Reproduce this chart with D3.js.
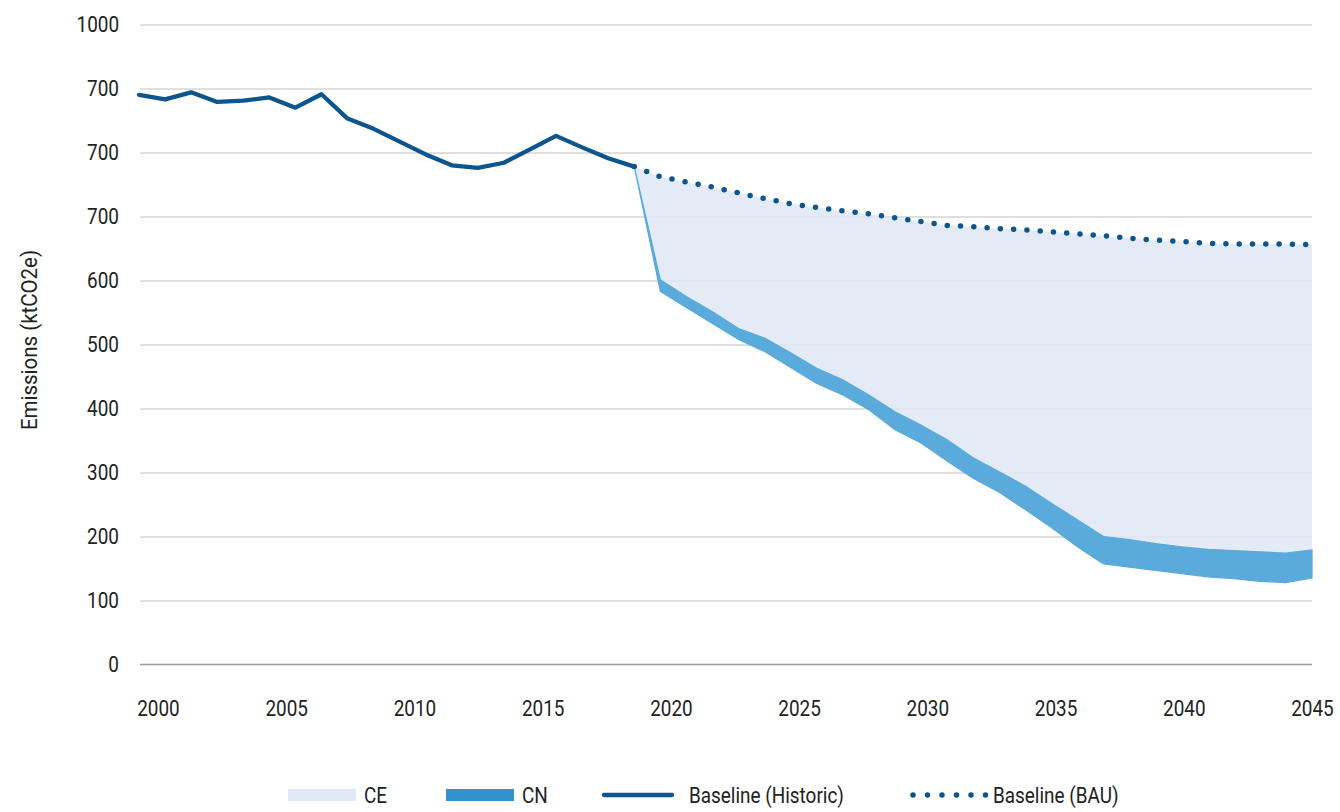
<!DOCTYPE html>
<html>
<head>
<meta charset="utf-8">
<script src="https://cdn.jsdelivr.net/npm/d3@7"></script>
<style>
  html, body { margin: 0; padding: 0; background: #fff; }
  svg { display: block; }
  text { font-family: Roboto, "Liberation Sans", sans-serif; fill: #222; }
</style>
</head>
<body>
<svg id="chart" width="1340" height="812"></svg>
<script>
// ---- Data ----
const historicYears = d3.range(2000, 2020);
const historicValues = [890, 883, 894, 879, 881, 886, 870, 891, 853, 837,
                        817, 797, 780, 776, 784, 805, 826, 808, 791, 778];

const projYears = d3.range(2019, 2046);
const bauValues = [778, 762, 754, 746, 737, 728, 720, 714, 709, 704, 698,
                   692, 686, 684, 681, 679, 676, 673, 670, 666, 663, 661,
                   658, 657, 657, 657, 656];
const cnUpper = [778, 601, 575, 551, 525, 510, 487, 463, 445, 421, 395,
                 374, 351, 323, 301, 279, 252, 226, 200, 195, 189, 184,
                 180, 178, 176, 174, 179];
const cnLower = [778, 583, 558, 533, 508, 489, 464, 439, 421, 398, 367,
                 346, 318, 291, 269, 242, 214, 184, 157, 152, 147, 142,
                 137, 134, 130, 128, 135];

const yTickValues = [0, 100, 200, 300, 400, 500, 600, 700, 800, 900, 1000];
const yTickLabels = ["0", "100", "200", "300", "400", "500", "600", "700", "700", "700", "1000"];
const xTickValues = [2000, 2005, 2010, 2015, 2020, 2025, 2030, 2035, 2040, 2045];
const legendLabels = ["CE", "CN", "Baseline (Historic)", "Baseline (BAU)"];
const yAxisTitle = "Emissions (ktCO2e)";

// ---- Layout ----
const svg = d3.select("#chart");
const plotLeft = 140, plotRight = 1312;
const x = d3.scaleLinear().domain([2000, 2045]).range([139, 1312]);
const xLabel = d3.scaleLinear().domain([2000, 2045]).range([158, 1312]);
const y = d3.scaleLinear().domain([0, 1000]).range([664.5, 24.5]);

const darkBlue = "#0d558e";
const cnColor = "#5aaadb";
const cnLegend = "#3292d0";
const ceColor = "#e0e8f5";
const SX = 0.86;   // horizontal condensing of text (condensed face look)
const FS = 22;

// gridlines
const grid = svg.append("g").attr("transform", `translate(${plotLeft},0)`)
  .call(d3.axisLeft(y).tickValues(yTickValues.filter(d => d > 0)).tickSize(-(plotRight - plotLeft)).tickFormat(""));
grid.select(".domain").remove();
grid.selectAll("line").attr("stroke", "#d4d4d4").attr("stroke-width", 1.3);

// y axis labels
const yAxis = svg.append("g").attr("transform", `translate(${plotLeft},0)`)
  .call(d3.axisLeft(y).tickValues(yTickValues).tickSize(0).tickPadding(21)
    .tickFormat((d, i) => yTickLabels[i]));
yAxis.select(".domain").remove();
yAxis.selectAll("text").attr("font-size", FS).attr("font-family", null).style("fill", "#222")
  .attr("x", -21 / SX).attr("transform", `scale(${SX},1)`);

// CE area (between CN upper and BAU)
const proj = projYears.map((yr, i) => ({ yr, bau: bauValues[i], hi: cnUpper[i], lo: cnLower[i] }));
svg.append("path").datum(proj)
  .attr("d", d3.area().x(d => x(d.yr)).y0(d => y(d.hi)).y1(d => y(d.bau)))
  .attr("fill", ceColor).attr("fill-opacity", 0.85);

// CN band
svg.append("path").datum(proj)
  .attr("d", d3.area().x(d => x(d.yr)).y0(d => y(d.lo)).y1(d => y(d.hi)))
  .attr("fill", cnColor)
  .attr("stroke", cnColor).attr("stroke-width", 1.2);

// zero line
svg.append("line").attr("x1", plotLeft).attr("x2", plotRight)
  .attr("y1", y(0)).attr("y2", y(0)).attr("stroke", "#9a9a9a").attr("stroke-width", 1.6);

// BAU dotted line
svg.append("path").datum(proj)
  .attr("d", d3.line().x(d => x(d.yr)).y(d => y(d.bau)))
  .attr("fill", "none").attr("stroke", darkBlue).attr("stroke-width", 5.5)
  .attr("stroke-linecap", "round").attr("stroke-dasharray", "0 13.3");

// Historic line
const hist = historicYears.map((yr, i) => ({ yr, v: historicValues[i] }));
svg.append("path").datum(hist)
  .attr("d", d3.line().x(d => x(d.yr)).y(d => y(d.v)))
  .attr("fill", "none").attr("stroke", darkBlue).attr("stroke-width", 4.3)
  .attr("stroke-linejoin", "round").attr("stroke-linecap", "round");

// x axis labels
const xAxis = svg.append("g").attr("transform", `translate(0,${y(0)})`)
  .call(d3.axisBottom(xLabel).tickValues(xTickValues).tickSize(0).tickPadding(36).tickFormat(d3.format("d")));
xAxis.select(".domain").remove();
xAxis.selectAll("text").attr("font-size", FS).attr("font-family", null).style("fill", "#222")
  .attr("transform", `scale(${SX},1)`);

// y axis title
svg.append("text")
  .attr("transform", `translate(37,340) rotate(-90) scale(0.93,1)`)
  .attr("text-anchor", "middle")
  .attr("font-size", FS)
  .text(yAxisTitle);

// legend
const legY = 795;
const leg = svg.append("g");
const items = [
  { x: 288, tx: 364, type: "rect", color: "#dfe8f6" },
  { x: 446, tx: 522, type: "rect", color: cnLegend },
  { x: 604, tx: 689, type: "line" },
  { x: 912, tx: 993, type: "dots" }
];
items.forEach((it, i) => {
  if (it.type === "rect") {
    leg.append("rect").attr("x", it.x).attr("y", legY - 6).attr("width", 68).attr("height", 12).attr("fill", it.color);
  } else if (it.type === "line") {
    leg.append("line").attr("x1", it.x).attr("x2", it.x + 68).attr("y1", legY).attr("y2", legY)
      .attr("stroke", darkBlue).attr("stroke-width", 4.3).attr("stroke-linecap", "round");
  } else {
    leg.append("line").attr("x1", it.x + 1).attr("x2", it.x + 74).attr("y1", legY).attr("y2", legY)
      .attr("stroke", darkBlue).attr("stroke-width", 5.5).attr("stroke-linecap", "round").attr("stroke-dasharray", "0 14.5");
  }
  leg.append("text").attr("transform", `translate(${it.tx},${legY}) scale(0.88,1)`)
    .attr("dy", "0.35em").attr("font-size", 21.5).text(legendLabels[i]);
});
</script>
</body>
</html>
